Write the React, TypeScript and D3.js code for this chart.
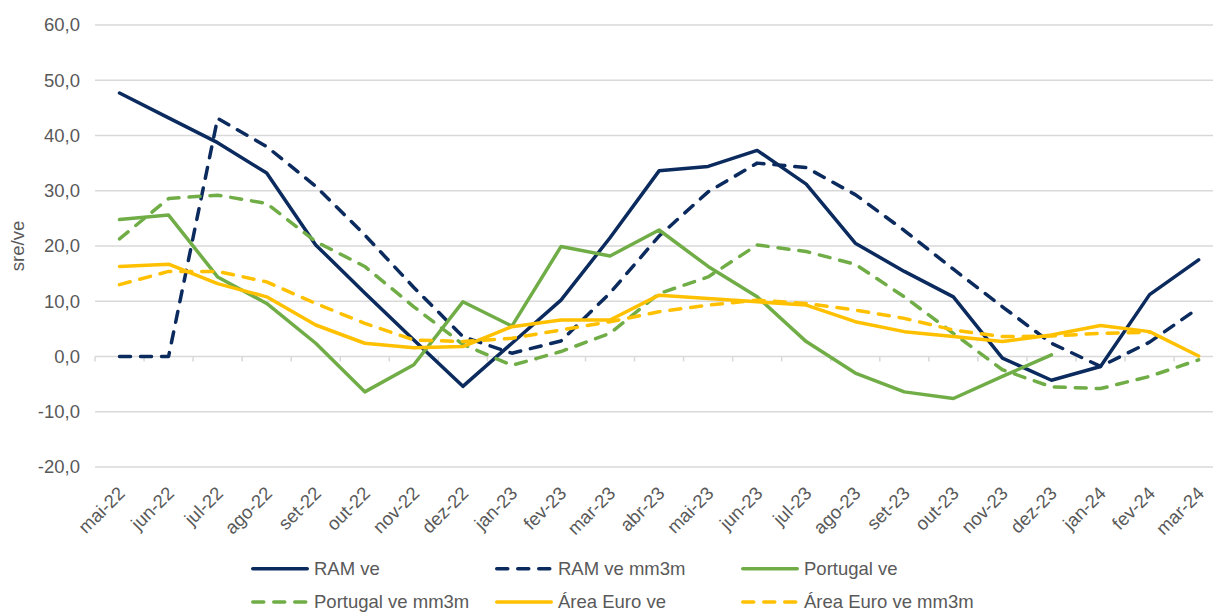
import { useEffect, useRef } from "react";
import * as d3 from "d3";

const months = [
  "mai-22", "jun-22", "jul-22", "ago-22", "set-22", "out-22", "nov-22", "dez-22",
  "jan-23", "fev-23", "mar-23", "abr-23", "mai-23", "jun-23", "jul-23", "ago-23",
  "set-23", "out-23", "nov-23", "dez-23", "jan-24", "fev-24", "mar-24",
];

const ramVe = [47.7, 43.2, 38.7, 33.2, 20.2, 11.5, 3.0, -5.4, 2.4, 10.2, 21.5, 33.6, 34.4, 37.3, 31.2, 20.5, 15.4, 10.8, -0.3, -4.3, -1.8, 11.2, 17.5];
const ramVeMm3m = [0, 0, 43.1, 38.0, 30.8, 22.0, 12.5, 3.6, 0.6, 2.8, 11.5, 21.8, 29.8, 35.0, 34.2, 29.3, 22.8, 15.8, 9.0, 2.4, -1.8, 2.6, 8.8];
const portugalVe = [24.8, 25.6, 14.4, 9.6, 2.4, -6.4, -1.5, 9.9, 5.5, 19.9, 18.2, 22.9, 16.3, 10.8, 2.7, -3.0, -6.4, -7.6, -3.6, 0.3, null, null, null];
const portugalVeMm3m = [21.3, 28.6, 29.2, 27.7, 20.8, 16.3, 9.0, 2.2, -1.6, 0.9, 4.2, 11.4, 14.4, 20.2, 19.0, 16.7, 10.8, 4.2, -2.4, -5.5, -5.8, -3.6, -0.6];
const euroVe = [16.3, 16.7, 13.2, 10.8, 5.7, 2.4, 1.6, 1.8, 5.4, 6.6, 6.6, 11.1, 10.5, 9.9, 9.3, 6.3, 4.5, 3.6, 2.7, 3.9, 5.6, 4.5, 0.1];
const euroVeMm3m = [13.0, 15.4, 15.4, 13.5, 9.6, 6.0, 3.0, 2.7, 3.3, 4.8, 6.3, 8.1, 9.3, 10.2, 9.6, 8.4, 6.9, 4.8, 3.6, 3.7, 4.2, 4.4, null];

const yTicks = [-20, -10, 0, 10, 20, 30, 40, 50, 60];

const NAVY = "#0B2A5E";
const GREEN = "#70AD47";
const YELLOW = "#FFC000";

const series = [
  { name: "RAM ve", values: ramVe, color: NAVY, dashed: false },
  { name: "RAM ve mm3m", values: ramVeMm3m, color: NAVY, dashed: true },
  { name: "Portugal ve", values: portugalVe, color: GREEN, dashed: false },
  { name: "Portugal ve mm3m", values: portugalVeMm3m, color: GREEN, dashed: true },
  { name: "Área Euro ve", values: euroVe, color: YELLOW, dashed: false },
  { name: "Área Euro ve mm3m", values: euroVeMm3m, color: YELLOW, dashed: true },
];

const FONT = "'Liberation Sans', Arial, sans-serif";
const TEXT = "#595959";

export default function App() {
  const ref = useRef<SVGSVGElement>(null);

  useEffect(() => {
    const width = 1213;
    const height = 612;
    const svg = d3.select(ref.current);
    svg.selectAll("*").remove();
    svg.attr("width", width).attr("height", height);

    const left = 95;
    const bandW = 49.05;

    const x = d3
      .scaleBand<string>()
      .domain(months)
      .range([left, left + bandW * months.length])
      .padding(0);
    const cx = (m: string) => (x(m) as number) + x.bandwidth() / 2;

    const y = d3.scaleLinear().domain([-20, 60]).range([467, 25]);

    const fmt = d3
      .formatLocale({ decimal: ",", thousands: ".", grouping: [3], currency: ["€", ""], minus: "-" })
      .format(".1f");

    // grelha horizontal
    svg
      .append("g")
      .selectAll("line")
      .data(yTicks)
      .enter()
      .append("line")
      .attr("x1", left)
      .attr("x2", width)
      .attr("y1", (d) => y(d))
      .attr("y2", (d) => y(d))
      .attr("stroke", "#D9D9D9")
      .attr("stroke-width", 1.5);

    // marcas do eixo das categorias (na linha do zero)
    const bounds = months.map((m) => x(m) as number);
    svg
      .append("g")
      .selectAll("line")
      .data(bounds)
      .enter()
      .append("line")
      .attr("x1", (d) => d)
      .attr("x2", (d) => d)
      .attr("y1", y(0))
      .attr("y2", y(0) + 5)
      .attr("stroke", "#D9D9D9")
      .attr("stroke-width", 1.5);

    // rótulos do eixo y
    svg
      .append("g")
      .selectAll("text")
      .data(yTicks)
      .enter()
      .append("text")
      .attr("x", 80)
      .attr("y", (d) => y(d))
      .attr("dy", "0.35em")
      .attr("text-anchor", "end")
      .attr("font-family", FONT)
      .attr("font-size", 18.5)
      .attr("fill", TEXT)
      .text((d) => fmt(d));

    svg
      .append("text")
      .attr("transform", "translate(24,246) rotate(-90)")
      .attr("text-anchor", "middle")
      .attr("font-family", FONT)
      .attr("font-size", 18.5)
      .attr("fill", TEXT)
      .text("sre/ve");

    // rótulos do eixo x, rodados
    svg
      .append("g")
      .selectAll("text")
      .data(months)
      .enter()
      .append("text")
      .attr("transform", (d) => `translate(${cx(d) + 2},490) rotate(-45)`)
      .attr("dy", "0.35em")
      .attr("text-anchor", "end")
      .attr("font-family", FONT)
      .attr("font-size", 18.5)
      .attr("fill", TEXT)
      .text((d) => d);

    // linhas
    const line = d3
      .line<number | null>()
      .defined((d) => d !== null)
      .x((_, i) => cx(months[i]))
      .y((d) => y(d as number));

    series.forEach((s) => {
      svg
        .append("path")
        .datum(s.values)
        .attr("d", line)
        .attr("fill", "none")
        .attr("stroke", s.color)
        .attr("stroke-width", 3.5)
        .attr("stroke-linejoin", "round")
        .attr("stroke-linecap", "round")
        .attr("stroke-dasharray", s.dashed ? "11 10" : null);
    });

    // legenda
    const legX = [251, 495, 741];
    const legY = [568.7, 602];
    const leg = svg.append("g");
    series.forEach((s, i) => {
      const lx = legX[i % 3];
      const ly = legY[Math.floor(i / 3)];
      leg
        .append("line")
        .attr("x1", lx + 1.75)
        .attr("x2", lx + 56.25)
        .attr("y1", ly)
        .attr("y2", ly)
        .attr("stroke", s.color)
        .attr("stroke-width", 3.5)
        .attr("stroke-linecap", "round")
        .attr("stroke-dasharray", s.dashed ? "11 10" : null);
      leg
        .append("text")
        .attr("x", lx + 63)
        .attr("y", ly)
        .attr("dy", "0.35em")
        .attr("font-family", FONT)
        .attr("font-size", 18.5)
        .attr("fill", TEXT)
        .text(s.name);
    });
  }, []);

  return (
    <svg
      ref={ref}
      style={{ position: "absolute", left: 0, top: 0, display: "block", background: "#fff" }}
    ></svg>
  );
}
